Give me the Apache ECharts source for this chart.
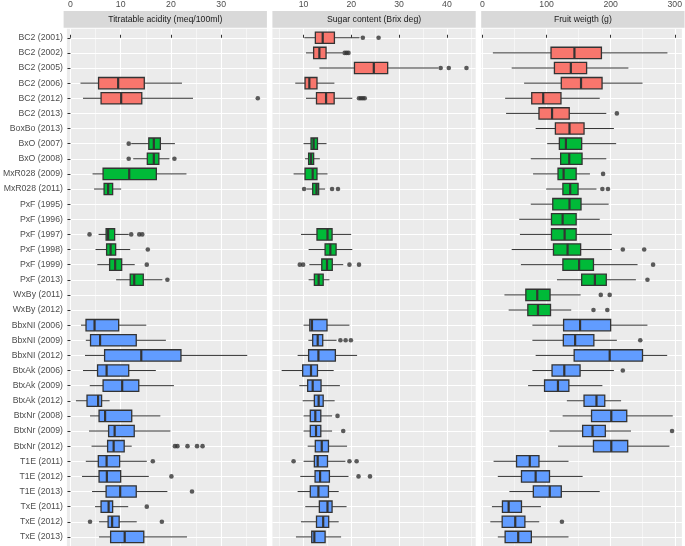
<!DOCTYPE html>
<html><head><meta charset="utf-8">
<script src="https://cdn.jsdelivr.net/npm/echarts@6/dist/echarts.min.js"></script>
<style>html,body{margin:0;padding:0;background:#fff}#c{width:685px;height:546px}</style>
</head><body><div id="c"></div>
<script>
// ---------- DATA ----------
const categories = [
  'BC2 (2001)','BC2 (2002)','BC2 (2005)','BC2 (2006)','BC2 (2012)','BC2 (2013)','BoxBo (2013)',
  'BxO (2007)','BxO (2008)','MxR028 (2009)','MxR028 (2011)','PxF (1995)','PxF (1996)','PxF (1997)',
  'PxF (1998)','PxF (1999)','PxF (2013)','WxBy (2011)','WxBy (2012)','BbxNI (2006)','BbxNI (2009)',
  'BbxNI (2012)','BtxAk (2006)','BtxAk (2009)','BtxAk (2012)','BtxNr (2008)','BtxNr (2009)',
  'BtxNr (2012)','T1E (2011)','T1E (2012)','T1E (2013)','TxE (2011)','TxE (2012)','TxE (2013)'
];
// 0 = red family, 1 = green family, 2 = blue family
const colorGroup = [0,0,0,0,0,0,0, 1,1,1,1,1,1,1,1,1,1,1,1, 2,2,2,2,2,2,2,2,2,2,2,2,2,2,2];

const panelTitles = ['Titratable acidity (meq/100ml)', 'Sugar content (Brix deg)', 'Fruit weigth (g)'];
const xTickValues = [[0,10,20,30],[10,20,30,40],[0,100,200,300]];

// [min whisker, Q1, median, Q3, max whisker]
const acidity = [
  null, null, null,
  [2.0, 5.6, 9.5, 14.7, 22.2],
  [2.5, 6.1, 10.1, 14.2, 24.4],
  null, null,
  [12.1, 15.6, 16.6, 17.9, 20.8],
  [12.5, 15.3, 16.6, 17.6, 19.7],
  [4.4, 6.5, 11.7, 17.1, 23.1],
  [4.7, 6.7, 7.5, 8.4, 10.1],
  null, null,
  [5.6, 7.1, 7.5, 8.8, 11.6],
  [5.0, 7.2, 8.0, 9.0, 11.9],
  [5.35, 7.8, 8.9, 10.2, 12.8],
  [9.1, 11.9, 12.7, 14.5, 18.3],
  null, null,
  [2.1, 3.1, 4.8, 9.6, 15.1],
  [3.06, 4.0, 5.9, 13.1, 19.0],
  [2.9, 6.8, 14.1, 22.0, 35.2],
  [2.5, 5.4, 7.2, 11.6, 17.0],
  [3.85, 6.5, 10.3, 13.6, 20.6],
  [1.1, 3.3, 5.5, 6.2, 7.8],
  [3.9, 5.7, 6.9, 12.2, 17.9],
  [3.7, 7.6, 8.8, 12.7, 19.9],
  [4.2, 7.4, 8.6, 10.7, 12.2],
  [3.06, 5.55, 7.2, 9.8, 15.2],
  [2.3, 5.7, 7.25, 10.0, 15.6],
  [4.3, 7.1, 9.9, 13.1, 19.3],
  [4.9, 6.1, 7.6, 8.4, 11.5],
  [5.7, 7.5, 8.3, 9.7, 13.2],
  [5.7, 8.0, 10.8, 14.6, 23.2]
];
const acidityOutliers = [
  [],[],[],[],[37.3],[],[],
  [11.6],[11.6,20.7],[],[],[],[],[3.8,12.1,13.7,14.3],
  [15.4],[15.2],[19.3],[],[],[],[],
  [],[],[],[],[],[],
  [20.8,21.3,23.3,25.2,26.3],[16.4],[20.1],[24.2],[15.2],[3.9,18.2],[]
];

const sugar = [
  [10.15, 12.46, 14.0, 16.45, 21.7],
  [10.5, 12.1, 13.3, 14.7, 18.2],
  [13.3, 20.65, 24.7, 27.6, 38.2],
  [8.25, 10.3, 11.2, 12.8, 16.45],
  [10.5, 12.7, 14.7, 16.4, 20.2],
  null, null,
  [10.0, 11.55, 12.1, 12.9, 14.8],
  [10.3, 11.05, 11.55, 12.1, 13.4],
  [7.9, 10.3, 11.9, 12.8, 15.0],
  [10.6, 11.9, 12.7, 13.15, 14.5],
  null, null,
  [9.45, 12.8, 15.0, 15.96, 19.95],
  [11.05, 14.5, 15.6, 16.8, 20.2],
  [11.2, 13.8, 14.9, 16.0, 18.3],
  [11.05, 12.25, 13.15, 14.1, 15.4],
  null, null,
  [10.0, 11.3, 11.75, 14.9, 19.6],
  [11.0, 11.9, 12.95, 14.0, 16.9],
  [8.75, 11.05, 13.1, 16.65, 21.2],
  [5.4, 9.8, 11.55, 12.9, 16.3],
  [9.1, 10.85, 11.9, 13.65, 17.6],
  [9.8, 12.25, 13.15, 14.1, 16.5],
  [10.0, 11.4, 12.45, 13.6, 15.96],
  [10.0, 11.4, 12.6, 13.6, 15.96],
  [10.85, 12.45, 13.8, 15.2, 19.1],
  [10.0, 12.25, 12.95, 15.0, 18.75],
  [9.3, 12.4, 13.45, 15.4, 19.4],
  [8.75, 11.4, 13.1, 15.2, 17.35],
  [10.35, 13.3, 15.0, 15.96, 19.0],
  [9.45, 12.7, 14.1, 15.25, 17.35],
  [8.4, 11.7, 12.25, 14.5, 17.85]
];
const sugarOutliers = [
  [22.4,25.7],[18.6,19.0,19.4],[38.7,40.4,44.1],[],[21.6,22.0,22.4,22.8],[],[],
  [],[],[],[10.1,15.96,17.2],[],[],[],
  [],[9.2,9.9,19.6,21.6],[],[],[],[],[17.7,18.8,19.9],
  [],[],[],[],[17.1],[18.3],
  [],[7.9,19.6,21.1],[21.5,23.9],[],[],[],[]
];

const fruit = [
  null,
  [16.3, 107, 143.5, 185.6, 288.6],
  [45.6, 112.3, 137.9, 162.5, 227.7],
  [65, 123, 153.8, 186.6, 249.7],
  [35.4, 76.9, 94.8, 122.5, 183],
  [36.9, 88.2, 108.6, 135.4, 193.2],
  [83, 113.8, 135.8, 158.5, 205.1],
  [101, 120, 130.2, 154.8, 208.6],
  [75.4, 122, 135.4, 155.4, 193.2],
  [79, 117.9, 126.6, 146.2, 167.7],
  [99.4, 125.5, 136.9, 149.2, 177.9],
  [75.4, 109.7, 135.8, 153.8, 196.9],
  [57.4, 107.7, 125.1, 146.2, 183],
  [58.5, 107.7, 128.2, 146.2, 202],
  [45.6, 110.8, 132.8, 153.2, 202],
  [60, 125.5, 150.8, 173.2, 242],
  [116.3, 154.8, 175.4, 193.2, 239.4],
  [34.3, 67.7, 85.5, 105.5, 153.2],
  [40.9, 70.8, 86.6, 106.2, 138.5],
  [77.9, 126.6, 152.3, 200, 257.4],
  [77.9, 126.2, 144.6, 173.8, 209.7],
  [83, 143.1, 198.5, 249.7, 288.2],
  [77.9, 108.6, 127.7, 152.3, 205.1],
  [71.2, 96.9, 117.8, 134.8, 187.1],
  [131.7, 158.5, 177.9, 190.8, 216.3],
  [125.1, 170.2, 201, 225.1, 296.9],
  [104.6, 156.3, 171.7, 191.7, 231.7],
  [117.9, 173.2, 201, 226.6, 291.7],
  [17.4, 53.2, 73.8, 88.2, 134.3],
  [24, 60.9, 83, 104.6, 156.3],
  [42, 79.4, 105, 123, 183],
  [14.8, 31.2, 40.9, 60.9, 91.2],
  [12.3, 30.8, 51.2, 66.2, 88.6],
  [24, 35.4, 55.8, 76.3, 134.3]
];
const fruitOutliers = [
  [],[],[],[],[],[209.7],[],
  [],[],[188.2],[187.1,195.8],[],[],[],
  [219,252.3],[266.2],[257.4],[184.6,198.5],[173.2,194.8],[],[246.2],
  [],[219],[],[],[],[295.8],
  [],[],[],[],[],[124],[]
];

// ---------- LAYOUT / STYLE ----------
const FONT = '"Liberation Sans", Arial, Helvetica, sans-serif';
const PANEL_TOP = 27.7, PANEL_H = 518.3, PANEL_W = 203.3, STRIP_H = 16.7;
const PANEL_LEFT = [63.6, 272.4, 481.2];
const X_RANGES = [[-0.71, 39.11], [3.465, 46.035], [-1.93, 311.13]];
const palette = ['#F8766D', '#00BA38', '#619CFF'];
const yIdx = categories.map((_, i) => i);
const measures = [acidity, sugar, fruit];
const outliers = [acidityOutliers, sugarOutliers, fruitOutliers];

function renderBox(params, api) {
  const y = api.value(5);
  const lo = api.coord([api.value(0), y]);
  const q1 = api.coord([api.value(1), y]);
  const md = api.coord([api.value(2), y]);
  const q3 = api.coord([api.value(3), y]);
  const hi = api.coord([api.value(4), y]);
  const h = api.size([0, 1])[1] * 0.75;
  const fill = palette[api.value(6)];
  const ws = { stroke: '#333333', lineWidth: 1 };
  return {
    type: 'group',
    children: [
      { type: 'line', shape: { x1: lo[0], y1: lo[1], x2: q1[0], y2: q1[1] }, style: ws },
      { type: 'line', shape: { x1: q3[0], y1: q3[1], x2: hi[0], y2: hi[1] }, style: ws },
      { type: 'rect', shape: { x: q1[0], y: q1[1] - h / 2, width: q3[0] - q1[0], height: h },
        style: { fill: fill, stroke: '#333333', lineWidth: 1.3 } },
      { type: 'line', shape: { x1: md[0], y1: md[1] - h / 2, x2: md[0], y2: md[1] + h / 2 },
        style: { stroke: '#333333', lineWidth: 2.2 } }
    ]
  };
}

const option = {
  animation: false,
  grid: PANEL_LEFT.map(l => ({
    left: l, top: PANEL_TOP, width: PANEL_W, height: PANEL_H,
    show: true, backgroundColor: '#EBEBEB', borderWidth: 0
  })),
  xAxis: PANEL_LEFT.map((_, i) => ({
    type: 'value', gridIndex: i, position: 'top', offset: STRIP_H,
    min: X_RANGES[i][0], max: X_RANGES[i][1], splitNumber: i === 2 ? 3 : 5,
    axisLine: { show: false },
    axisTick: { show: true, length: 3, lineStyle: { color: '#333333', width: 1 }, customValues: xTickValues[i] },
    axisLabel: { customValues: xTickValues[i], color: '#4D4D4D', fontSize: 8.7, fontFamily: FONT, margin: 3 },
    splitLine: { show: true, lineStyle: { color: '#FFFFFF', width: 1.1 } },
    minorTick: { show: false, splitNumber: 2 },
    minorSplitLine: { show: true, lineStyle: { color: '#FFFFFF', width: 0.5 } }
  })),
  yAxis: PANEL_LEFT.map((_, i) => ({
    type: 'value', gridIndex: i, inverse: true, min: -0.6, max: 33.6,
    axisLine: { show: false },
    axisTick: { show: i === 0, length: 3, lineStyle: { color: '#333333', width: 1 }, customValues: yIdx },
    axisLabel: { show: i === 0, customValues: yIdx, formatter: v => categories[Math.round(v)] || '',
      color: '#4D4D4D', fontSize: 8.7, fontFamily: FONT, margin: 4 },
    splitLine: { show: true, lineStyle: { color: '#FFFFFF', width: 1.1 } },
    minorSplitLine: { show: false }
  })),
  series: [].concat(
    measures.map((m, i) => ({
      type: 'custom', xAxisIndex: i, yAxisIndex: i, silent: true, clip: false,
      renderItem: renderBox,
      encode: { x: [0, 1, 2, 3, 4], y: 5 },
      data: m.map((s, k) => s ? s.concat([k, colorGroup[k]]) : null).filter(Boolean)
    })),
    outliers.map((o, i) => ({
      type: 'scatter', xAxisIndex: i, yAxisIndex: i, silent: true,
      symbolSize: 4.6, itemStyle: { color: '#333333' },
      data: o.flatMap((arr, k) => arr.map(v => [v, k]))
    }))
  ),
  graphic: PANEL_LEFT.flatMap((l, i) => [
    { type: 'rect', silent: true, shape: { x: l, y: PANEL_TOP - STRIP_H, width: PANEL_W, height: STRIP_H },
      style: { fill: '#D9D9D9' } },
    { type: 'text', silent: true, x: l + PANEL_W / 2, y: PANEL_TOP - STRIP_H / 2 + 0.5,
      style: { text: panelTitles[i], fill: '#1A1A1A', font: '8.7px ' + FONT, align: 'center', verticalAlign: 'middle' } }
  ])
};

const chart = echarts.init(document.getElementById('c'), null, { renderer: 'canvas' });
chart.setOption(option);
</script>
</body></html>
